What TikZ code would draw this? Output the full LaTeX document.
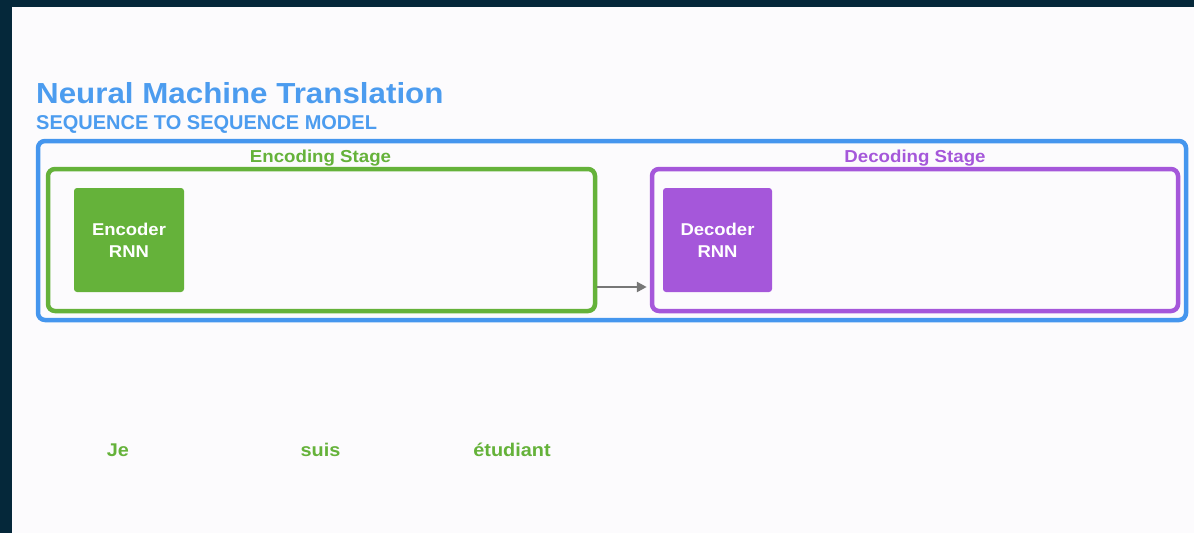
\documentclass[tikz,border=0pt]{standalone}
\usepackage{fontspec}
\setmainfont{Liberation Sans}
\newfontfamily\widesans[FakeStretch=1.08]{Liberation Sans}
\usetikzlibrary{arrows.meta}
\definecolor{frame}{HTML}{05283A}
\definecolor{bg}{HTML}{FCFBFD}
\definecolor{nmtblue}{HTML}{4596EE}
\definecolor{titleblue}{HTML}{4C9CEF}
\definecolor{encgreen}{HTML}{65B23A}
\definecolor{decpurple}{HTML}{A557DA}
\definecolor{arrowgray}{HTML}{777777}
\begin{document}
\begin{tikzpicture}[x=1pt,y=-1pt,
  stagebox/.style={draw=#1,line width=4.5pt,rounded corners=7pt,inner sep=0pt},
  rnnbox/.style={fill=#1,rounded corners=3pt,minimum width=110pt,minimum height=104pt,inner sep=0pt,
     text=white,font=\widesans\bfseries\fontsize{17.1}{22}\selectfont,align=center},
  stagelabel/.style={font=\widesans\bfseries\fontsize{17.3}{18}\selectfont,text=#1,inner sep=0pt},
  word/.style={font=\widesans\bfseries\fontsize{18.4}{19}\selectfont,text=encgreen,inner sep=0pt}]
\fill[frame] (0,0) rectangle (1194,533);
\fill[bg] (12,7) rectangle (1194,533);
\useasboundingbox (0,0) rectangle (1194,533);
\node[anchor=base west,inner sep=0pt,text=titleblue,font=\widesans\bfseries\fontsize{29}{30}\selectfont] (title) at (36,103) {Neural Machine Translation};
\node[anchor=base west,inner sep=0pt,text=titleblue,font=\bfseries\fontsize{20}{21}\selectfont] (subtitle) at (36,129.5) {SEQUENCE TO SEQUENCE MODEL};
\node[stagebox=nmtblue,minimum width=1148pt,minimum height=179pt] (model) at (612,230.5) {};
\node[stagebox=encgreen,minimum width=547pt,minimum height=142pt] (encstage) at (321.5,240) {};
\node[stagebox=decpurple,minimum width=526pt,minimum height=142pt] (decstage) at (915,240) {};
\node[stagelabel=encgreen,anchor=base] (enclabel) at (320.5,162.5) {Encoding Stage};
\node[stagelabel=decpurple,anchor=base] (declabel) at (915,162.5) {Decoding Stage};
\node[rnnbox=encgreen] (encoder) at (129,240) {Encoder\\RNN};
\node[rnnbox=decpurple,minimum width=109pt] (decoder) at (717.5,240) {Decoder\\RNN};
\coordinate (arrowstart) at (encstage.east |- 0,287);
\coordinate (arrowend) at (decstage.west |- 0,287);
\draw[arrowgray,line width=2.6pt,-{Triangle[length=10pt,width=10pt]}] (arrowstart) -- ([xshift=-3pt]arrowend);
\node[word,anchor=base] (je) at (118,456) {Je};
\node[word,anchor=base] (suis) at (320.5,456) {suis};
\node[word,anchor=base] (etudiant) at (512,456) {étudiant};
\end{tikzpicture}
\end{document}
